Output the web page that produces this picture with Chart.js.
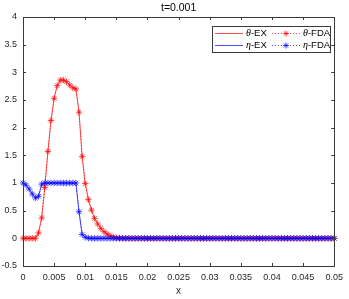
<!DOCTYPE html>
<html>
<head>
<meta charset="utf-8">
<script src="https://cdn.jsdelivr.net/npm/chart.js@4/dist/chart.umd.min.js"></script>
<style>
    html, body { margin: 0; padding: 0; background: #fff; }
    canvas { display: block; }
</style>
</head>
<body>
<canvas id="chart" width="349" height="299"></canvas>
<script>
// grid of the solution: 0 .. 0.05, step 0.0005
const dx = 0.0005;

// theta, point by point
const thetaValues = [
    0, 0, 0, 0, 0, 0.1, 0.37, 0.92, 1.57, 2.13,
    2.53, 2.76, 2.86, 2.86, 2.83, 2.77, 2.72, 2.70, 2.28, 1.48,
    0.99, 0.70, 0.51, 0.36, 0.26, 0.18, 0.12, 0.08, 0.047, 0.023,
    0.01, 0.004, 0.001, 0, 0, 0, 0, 0, 0, 0,
    0, 0, 0, 0, 0, 0, 0, 0, 0, 0,
    0, 0, 0, 0, 0, 0, 0, 0, 0, 0,
    0, 0, 0, 0, 0, 0, 0, 0, 0, 0,
    0, 0, 0, 0, 0, 0, 0, 0, 0, 0,
    0, 0, 0, 0, 0, 0, 0, 0, 0, 0,
    0, 0, 0, 0, 0, 0, 0, 0, 0, 0,
    0,
];

// eta
const etaValues = [
    1.0, 0.96, 0.89, 0.80, 0.73, 0.76, 0.98, 1.0, 1.0, 1.0,
    1.0, 1.0, 1.0, 1.0, 1.0, 1.0, 1.0, 1.0, 0.48, 0.07,
    0.02, 0.005, 0, 0, 0, 0, 0, 0, 0, 0,
    0, 0, 0, 0, 0, 0, 0, 0, 0, 0,
    0, 0, 0, 0, 0, 0, 0, 0, 0, 0,
    0, 0, 0, 0, 0, 0, 0, 0, 0, 0,
    0, 0, 0, 0, 0, 0, 0, 0, 0, 0,
    0, 0, 0, 0, 0, 0, 0, 0, 0, 0,
    0, 0, 0, 0, 0, 0, 0, 0, 0, 0,
    0, 0, 0, 0, 0, 0, 0, 0, 0, 0,
    0,
];

const xTicks = [0, 0.005, 0.01, 0.015, 0.02, 0.025, 0.03, 0.035, 0.04, 0.045, 0.05];
const yTicks = [-0.5, 0, 0.5, 1, 1.5, 2, 2.5, 3, 3.5, 4];

const titleText = 't=0.001';
const xTitle = 'x';

const axisColor = '#3a3a3a';
const red = 'rgba(255, 0, 0, 0.7)';
const blue = 'rgba(0, 0, 255, 0.7)';

function toPoints(values) {
    return values.map((y, i) => ({ x: +(i * dx).toFixed(4), y }));
}

function fmt(v) {
    return String(Number(v.toFixed(4)));
}

// order: lower value is drawn on top, eta-FDA ends up above everything
const series = [
    { label: 'θ-EX', greek: 'θ', rest: '-EX', data: thetaValues, color: red, fda: false, order: 4 },
    { label: 'η-EX', greek: 'η', rest: '-EX', data: etaValues, color: blue, fda: false, order: 2 },
    { label: 'θ-FDA', greek: 'θ', rest: '-FDA', data: thetaValues, color: red, fda: true, order: 3 },
    { label: 'η-FDA', greek: 'η', rest: '-FDA', data: etaValues, color: blue, fda: true, order: 1 },
];

function drawStar(ctx, x, y, r, color) {
    ctx.save();
    ctx.strokeStyle = color;
    ctx.lineWidth = 1;
    ctx.beginPath();
    for (let k = 0; k < 4; k++) {
        const ang = k * Math.PI / 4;
        ctx.moveTo(x - r * Math.cos(ang), y - r * Math.sin(ang));
        ctx.lineTo(x + r * Math.cos(ang), y + r * Math.sin(ang));
    }
    ctx.stroke();
    ctx.restore();
}

// box, inward ticks, title and the MATLAB-like legend
const framePlugin = {
    id: 'frame',
    afterDraw(chart) {
        const { ctx, chartArea: a, scales } = chart;
        const tl = 3;
        ctx.save();
        ctx.strokeStyle = axisColor;
        ctx.lineWidth = 1;
        ctx.strokeRect(Math.round(a.left) + 0.5, Math.round(a.top) + 0.5,
            Math.round(a.right - a.left), Math.round(a.bottom - a.top));
        ctx.beginPath();
        xTicks.forEach((t) => {
            const px = Math.round(scales.x.getPixelForValue(t)) + 0.5;
            ctx.moveTo(px, a.bottom); ctx.lineTo(px, a.bottom - tl);
            ctx.moveTo(px, a.top); ctx.lineTo(px, a.top + tl);
        });
        yTicks.forEach((t) => {
            const py = Math.round(scales.y.getPixelForValue(t)) + 0.5;
            ctx.moveTo(a.left, py); ctx.lineTo(a.left + tl, py);
            ctx.moveTo(a.right, py); ctx.lineTo(a.right - tl, py);
        });
        ctx.stroke();

        // title
        ctx.fillStyle = '#000';
        ctx.font = '10.5px "Liberation Sans", Arial, sans-serif';
        ctx.textAlign = 'center';
        ctx.textBaseline = 'middle';
        ctx.fillText(titleText, (a.left + a.right) / 2, 8);

        // legend
        const lx = 212, ly = 26, lw = 118, lh = 26;
        ctx.fillStyle = '#fff';
        ctx.fillRect(lx, ly, lw, lh);
        ctx.strokeStyle = axisColor;
        ctx.strokeRect(lx + 0.5, ly + 0.5, lw, lh);
        const rows = [33, 45];
        series.forEach((s, i) => {
            const y = rows[i % 2];
            const col = s.fda ? 272 : 215;
            const textX = s.fda ? 303 : 246;
            ctx.strokeStyle = s.color;
            ctx.lineWidth = 1;
            ctx.setLineDash(s.fda ? [1, 2] : []);
            ctx.beginPath();
            ctx.moveTo(col, y + 0.5);
            ctx.lineTo(col + 28, y + 0.5);
            ctx.stroke();
            ctx.setLineDash([]);
            if (s.fda) {
                drawStar(ctx, col + 14, y + 0.5, 3, s.color);
            }
            ctx.fillStyle = '#000';
            ctx.textAlign = 'left';
            ctx.font = 'italic 10px "Liberation Serif", "DejaVu Serif", serif';
            ctx.fillText(s.greek, textX, y + 0.5);
            const gw = ctx.measureText(s.greek).width;
            ctx.font = '9.5px "Liberation Sans", Arial, sans-serif';
            ctx.fillText(s.rest, textX + gw, y + 0.5);
        });
        ctx.restore();
    },
};

new Chart(document.getElementById('chart'), {
    type: 'line',
    data: {
        datasets: series.map((s) => ({
            label: s.label,
            data: toPoints(s.data),
            order: s.order,
            borderColor: s.color,
            backgroundColor: s.color,
            borderWidth: 1,
            borderDash: s.fda ? [1, 2] : [],
            pointStyle: 'star',
            pointRadius: s.fda ? 3.2 : 0,
            pointBorderWidth: 1,
            pointBorderColor: s.color,
            tension: 0,
            fill: false,
            clip: 8,
        })),
    },
    options: {
        responsive: false,
        animation: false,
        devicePixelRatio: 1,
        layout: { padding: { top: 17, right: 11, left: 0, bottom: 0 } },
        plugins: {
            legend: { display: false },
            tooltip: { enabled: false },
        },
        scales: {
            x: {
                type: 'linear',
                min: 0,
                max: 0.05,
                afterBuildTicks(scale) { scale.ticks = xTicks.map((v) => ({ value: v })); },
                afterFit(scale) { scale.height = 33; },
                grid: { display: false, drawTicks: false, tickLength: 0 },
                border: { display: false },
                ticks: {
                    padding: 6,
                    maxRotation: 0,
                    color: '#262626',
                    font: { family: '"Liberation Sans", Arial, sans-serif', size: 9 },
                    callback: (v) => fmt(v),
                },
                title: {
                    display: true,
                    text: xTitle,
                    color: '#262626',
                    padding: { top: 0, bottom: 2 },
                    font: { family: '"Liberation Sans", Arial, sans-serif', size: 10 },
                },
            },
            y: {
                min: -0.5,
                max: 4,
                afterBuildTicks(scale) { scale.ticks = yTicks.map((v) => ({ value: v })); },
                afterFit(scale) { scale.width = 23; },
                grid: { display: false, drawTicks: false, tickLength: 0 },
                border: { display: false },
                ticks: {
                    padding: 6,
                    color: '#262626',
                    font: { family: '"Liberation Sans", Arial, sans-serif', size: 9 },
                    callback: (v) => fmt(v),
                },
            },
        },
    },
    plugins: [framePlugin],
});
</script>
</body>
</html>
